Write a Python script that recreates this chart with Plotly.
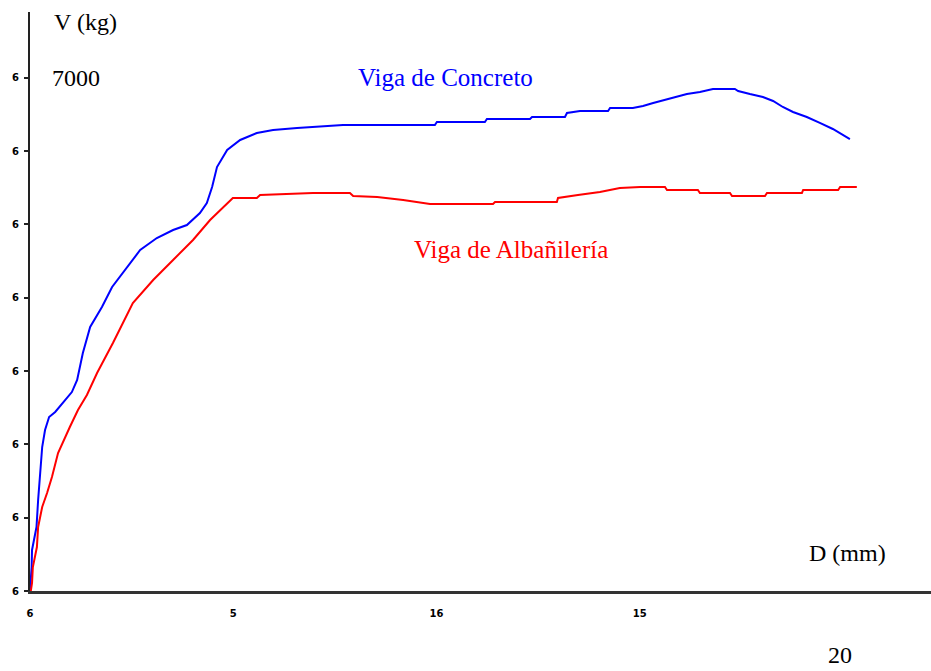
import plotly.graph_objects as go

# Viga de Concreto (blue)  D (mm), V (kg)
conc_d = [0, 0.04, 0.05, 0.16, 0.20, 0.25, 0.30, 0.37, 0.47, 0.62, 0.86, 1.03, 1.16, 1.30, 1.48,
          1.77, 2.02, 2.39, 2.71, 3.12, 3.52, 3.86, 4.18, 4.35, 4.48, 4.60, 4.85, 5.17, 5.58,
          5.98, 6.57, 7.70, 9.10, 9.96, 10.01, 11.19, 11.24, 12.30, 12.35, 13.16, 13.21, 13.53,
          14.22, 14.27, 14.83, 15.08, 15.33, 15.62, 15.87, 16.16, 16.48, 16.80, 17.34, 17.42,
          17.71, 18.03, 18.28, 18.52, 18.77, 19.11, 19.43, 19.75, 20.17]
conc_v = [0, 327, 560, 873, 1241, 1555, 1964, 2196, 2373, 2442, 2605, 2714, 2878, 3246, 3601,
          3874, 4147, 4419, 4651, 4815, 4924, 4992, 5156, 5292, 5511, 5783, 6015, 6152, 6247,
          6288, 6315, 6356, 6356, 6356, 6397, 6397, 6438, 6438, 6465, 6465, 6520, 6547,
          6547, 6588, 6588, 6615, 6656, 6697, 6738, 6779, 6806, 6847, 6847, 6820,
          6779, 6738, 6684, 6602, 6534, 6465, 6384, 6302, 6165]

# Viga de Albañilería (red)
alb_d = [0.02, 0.05, 0.07, 0.17, 0.20, 0.30, 0.42, 0.54, 0.69, 0.86, 0.98, 1.18, 1.40, 1.65,
         2.04, 2.53, 3.03, 3.52, 4.01, 4.43, 4.99, 5.58, 5.66, 6.96, 7.87, 7.95, 8.54, 9.18,
         9.79, 9.84, 11.39, 11.44, 12.96, 12.99, 13.48, 14.02, 14.51, 15.01, 15.62, 15.67,
         16.43, 16.48, 17.22, 17.27, 18.08, 18.13, 18.99, 19.02, 19.88, 19.93, 20.34]
alb_v = [0, 109, 327, 600, 873, 1146, 1337, 1555, 1882, 2101, 2237, 2469, 2673, 2974,
         3383, 3928, 4242, 4515, 4788, 5060, 5361, 5361, 5401, 5429, 5429, 5388, 5374, 5333,
         5292, 5279, 5279, 5306, 5306, 5361, 5401, 5442, 5497, 5511, 5511, 5470,
         5470, 5429, 5429, 5388, 5388, 5429, 5429, 5470, 5470, 5511, 5511]

y_tickvals = [0, 1000, 2000, 3000, 4000, 5000, 6000, 7000]
y_ticktext = ["6"] * 8
x_tickvals = [0, 5, 10, 15]
x_ticktext = ["6", "5", "16", "15"]

W, H = 931, 671
L, R, T, B = 30, 0, 12, 80
PW, PH = W - L - R, H - T - B


def px(x):
    return (x - L) / PW


def py(y):
    return (H - B - y) / PH


fig = go.Figure()
fig.add_trace(go.Scatter(x=conc_d, y=conc_v, mode="lines",
                         line=dict(color="#0000ff", width=2), name="Viga de Concreto"))
fig.add_trace(go.Scatter(x=alb_d, y=alb_v, mode="lines",
                         line=dict(color="#ff0000", width=2), name="Viga de Albañilería"))

serif = "Liberation Serif, Times New Roman, serif"
ann = [
    ("V (kg)", 85, 22, "black", 24),
    ("7000", 76, 78, "black", 24),
    ("Viga de Concreto", 445, 78, "#0000ff", 25),
    ("Viga de Albañilería", 511, 249, "#ff0000", 25),
    ("D (mm)", 847, 553, "black", 24),
    ("20", 840, 655, "black", 24),
]
for text, x, y, c, s in ann:
    fig.add_annotation(text=text, x=px(x), y=py(y), xref="paper", yref="paper",
                       xanchor="center", yanchor="middle", showarrow=False,
                       font=dict(family=serif, size=s, color=c))

tick_font = dict(family="DejaVu Sans", size=10, color="black", weight="bold")

fig.update_layout(
    width=W, height=H,
    margin=dict(l=L, r=R, t=T, b=B),
    paper_bgcolor="white", plot_bgcolor="white",
    showlegend=False,
    xaxis=dict(range=[0, PW / 40.65], showgrid=False, zeroline=False,
               showline=True, linecolor="#333", linewidth=3,
               tickvals=x_tickvals, ticktext=x_ticktext, ticks="",
               ticklabelstandoff=11, tickfont=tick_font),
    yaxis=dict(range=[0, (H - B - T) * 13.64], showgrid=False, zeroline=False,
               showline=True, linecolor="#222", linewidth=2,
               tickvals=y_tickvals, ticktext=y_ticktext, ticks="outside",
               ticklen=4, tickwidth=2, tickcolor="#222", ticklabelstandoff=3,
               tickfont=tick_font),
)

fig.write_html("out.html", config={"displayModeBar": False},
               post_script="document.body.style.margin='0';document.body.style.overflow='hidden';")
